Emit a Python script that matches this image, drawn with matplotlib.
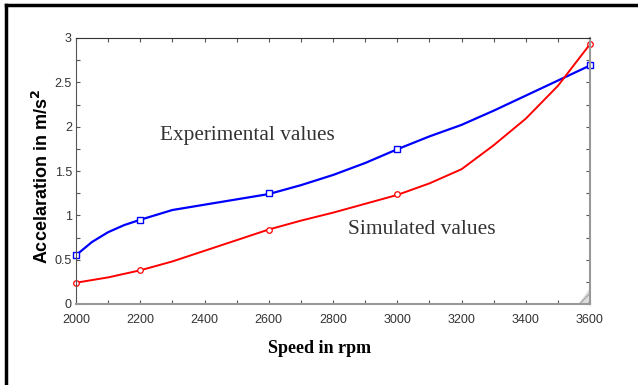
import numpy as np
import matplotlib.pyplot as plt
from matplotlib.lines import Line2D
from matplotlib.patches import Polygon
from matplotlib.ticker import MultipleLocator

# curve
speed = [2000, 2050, 2100, 2150, 2200, 2300, 2400, 2500, 2600, 2700, 2800,
         2900, 3000, 3100, 3200, 3300, 3400, 3500, 3600]
experimental = [0.55, 0.70, 0.81, 0.89, 0.95, 1.06, 1.12, 1.18, 1.24, 1.34, 1.455,
                1.59, 1.745, 1.89, 2.02, 2.18, 2.35, 2.52, 2.69]
simulated = [0.24, 0.27, 0.30, 0.34, 0.38, 0.48, 0.60, 0.72, 0.84, 0.94, 1.03,
             1.13, 1.23, 1.36, 1.52, 1.79, 2.09, 2.46, 2.93]

# measured points (markers)
mark_speed = [2000, 2200, 2600, 3000, 3600]
mark_exp = [0.55, 0.95, 1.25, 1.75, 2.7]
mark_sim = [0.24, 0.38, 0.84, 1.24, 2.93]

tickFont = {'family': ['Liberation Sans Narrow', 'Liberation Sans'], 'size': 9, 'color': '#333333'}

fig = plt.figure(figsize=(6.38, 3.85), dpi=100)
ax = fig.add_axes([76/638, 1-304/385, 514/638, 266/385])

ax.plot(speed, experimental, color='#0000ff', lw=1.6)
ax.plot(speed, simulated, color='#ff0000', lw=1.4)
ax.plot(mark_speed, mark_exp, ls='none', marker='s', ms=5, mfc='white', mec='#0000ff', mew=1.0, clip_on=False)
ax.plot(mark_speed, mark_sim, ls='none', marker='o', ms=4, mfc='white', mec='#ff0000', mew=0.9, clip_on=False)

ax.set_xlim(2000, 3600)
ax.set_ylim(0, 3)
ax.xaxis.set_major_locator(MultipleLocator(200))
ax.xaxis.set_minor_locator(MultipleLocator(100))
ax.yaxis.set_major_locator(MultipleLocator(0.5))
ax.yaxis.set_minor_locator(MultipleLocator(0.25))
ax.set_yticks([0, 0.5, 1, 1.5, 2, 2.5, 3])
ax.set_yticklabels(['0', '0.5', '1', '1.5', '2', '2.5', '3'])
ax.tick_params(which='both', direction='in', top=True, right=True, length=3,
               color='#555555', width=0.8)
ax.tick_params(axis='x', pad=7)
ax.tick_params(axis='y', pad=3)
for lab in ax.get_xticklabels() + ax.get_yticklabels():
    lab.set_fontfamily(tickFont['family'])
    lab.set_fontsize(tickFont['size'])
    lab.set_color(tickFont['color'])

ax.spines['top'].set_color('#333333')
ax.spines['left'].set_color('#555555')
ax.spines['right'].set_color('#999999')
ax.spines['bottom'].set_color('#999999')
ax.spines['right'].set_linewidth(1.5)
ax.spines['bottom'].set_linewidth(1.5)

ax.text(2261, 1.90, 'Experimental values', family='Liberation Serif', size=15.3, color='#333333', va='center')
ax.text(2847, 0.84, 'Simulated values', family='Liberation Serif', size=15.5, color='#333333', va='center')

ax.set_xlabel('Speed in rpm', family='Liberation Serif', weight='bold', size=13)
ax.xaxis.set_label_coords(0.473, -0.135)
ax.set_ylabel(r'Accelaration in m/s$^\mathbf{2}$', family='Liberation Sans', weight='bold', size=13)
ax.yaxis.set_label_coords(-0.046, 0.48)

# small resize grip in the corner
grip = Polygon([(1.0, 0.0), (1.0, 0.06), (0.978, 0.0)], closed=True, transform=ax.transAxes,
               facecolor='#dddddd', edgecolor='#aaaaaa', hatch='////', lw=0)
ax.add_patch(grip)

# outer frame (cropped box)
fig.add_artist(Line2D([6/638, 6/638], [0, 1-5/385], color='black', lw=2.5))
fig.add_artist(Line2D([6/638, 1], [1-5/385, 1-5/385], color='black', lw=2.5))

plt.savefig('out.png', dpi=100)
